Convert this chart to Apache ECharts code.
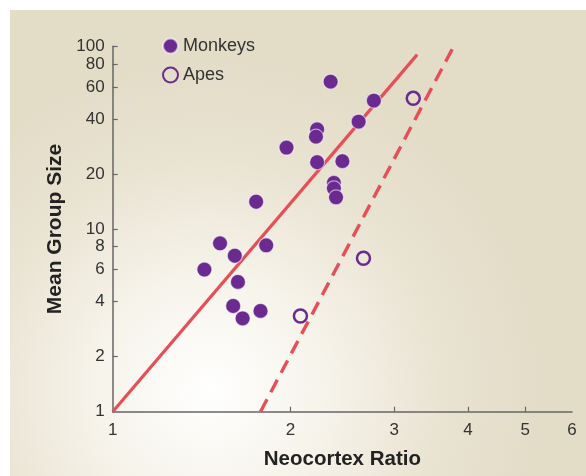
<!DOCTYPE html>
<html><head><meta charset="utf-8">
<script src="https://cdn.jsdelivr.net/npm/echarts@6/dist/echarts.min.js"></script>
<style>
html,body{margin:0;padding:0;background:#fff;}
#bg{position:absolute;left:10px;top:10px;width:576px;height:466px;
background:radial-gradient(ellipse 330px 330px at 200px 380px,#ffffff 0%,#f6f3ea 35%,#e9e3d2 70%,#e3dcc7 100%);}
#chart{position:absolute;left:0;top:0;width:586px;height:476px;}
</style></head>
<body><div id="bg"></div><div id="chart"></div>
<script>
const monkeysX = [2.34,2.77,2.61,2.22,2.21,1.97,2.22,2.45,2.37,2.37,2.39,1.75,1.52,1.82,1.61,1.43,1.63,1.60,1.78,1.66];
const monkeysY = [64,50.4,38.7,35.1,32.0,27.9,23.2,23.5,17.9,16.7,14.9,14.1,8.35,8.14,7.14,6.0,5.13,3.79,3.56,3.24];
const apesX = [2.08,2.66,3.23];
const apesY = [3.34,6.91,51.9];
const monkeyFitX = [1,3.28];
const monkeyFitY = [1,90];
const apeFitX = [1.78,3.77];
const apeFitY = [1,98];
const xTicks = [1,2,3,4,5,6];
const yTicks = [1,2,4,6,8,10,20,40,60,80,100];

const zip = (a,b)=>a.map((v,i)=>[v,b[i]]);
const purple = '#6a2a90';
const red = '#e64f58';
const font = 'Liberation Sans, Arial, sans-serif';
const chart = echarts.init(document.getElementById('chart'));
chart.setOption({
  animation:false,
  grid:{left:112.7,right:14,top:46.3,bottom:64.3,containLabel:false},
  legend:{
    orient:'vertical',left:157,top:32,itemGap:11,itemWidth:15,itemHeight:15,
    data:['Monkeys','Apes'],
    textStyle:{fontSize:18,color:'#333',fontFamily:font}
  },
  xAxis:{
    type:'log',logBase:10,min:1,max:6,
    name:'Neocortex Ratio',nameLocation:'middle',nameGap:37,
    nameTextStyle:{fontSize:20.5,fontWeight:'bold',color:'#222',fontFamily:font},
    axisLine:{show:true,lineStyle:{color:'#666',width:1.5}},
    axisTick:{show:true,length:-5,lineStyle:{color:'#666',width:1.2},customValues:xTicks.slice(1,5)},
    axisLabel:{show:true,fontSize:17,color:'#333',margin:10,fontFamily:font,customValues:xTicks},
    splitLine:{show:false},minorTick:{show:false}
  },
  yAxis:{
    type:'log',logBase:10,min:1,max:100,
    name:'Mean Group Size',nameLocation:'middle',nameGap:47,
    nameTextStyle:{fontSize:21,fontWeight:'bold',color:'#222',fontFamily:font},
    axisLine:{show:true,lineStyle:{color:'#666',width:1.5}},
    axisTick:{show:true,length:-5,lineStyle:{color:'#666',width:1.2},customValues:yTicks.slice(1)},
    axisLabel:{show:true,fontSize:17,color:'#333',margin:8,fontFamily:font,customValues:yTicks},
    splitLine:{show:false},minorTick:{show:false}
  },
  series:[
    {type:'line',data:zip(monkeyFitX,monkeyFitY),symbol:'none',silent:true,
     lineStyle:{color:red,width:3.2},z:1},
    {type:'line',data:zip(apeFitX,apeFitY),symbol:'none',silent:true,
     lineStyle:{color:red,width:3.4,type:[14,8]},z:1},
    {name:'Monkeys',type:'scatter',data:zip(monkeysX,monkeysY),symbol:'circle',symbolSize:15,
     itemStyle:{color:purple,borderColor:'rgba(255,255,255,0.55)',borderWidth:1.2,opacity:1},z:3},
    {name:'Apes',type:'scatter',data:zip(apesX,apesY),symbol:'circle',symbolSize:13,
     itemStyle:{color:'rgba(0,0,0,0)',borderColor:purple,borderWidth:2.5,opacity:1},z:3}
  ]
});
</script></body></html>
